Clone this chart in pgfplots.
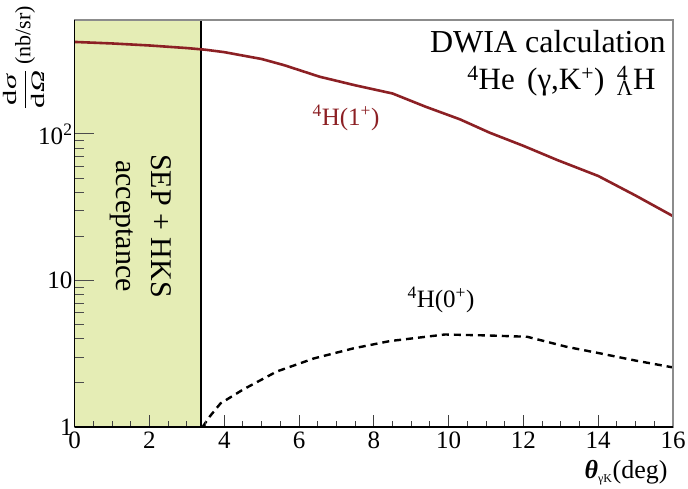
\documentclass[border=0pt]{standalone}
\usepackage{fontspec}
\setmainfont{Liberation Serif}
\usepackage{graphicx}
\usepackage{pgfplots}
\pgfplotsset{compat=1.18}
\definecolor{accgreen}{RGB}{229,237,181}
\definecolor{curvered}{RGB}{140,32,36}
\begin{document}
\begin{tikzpicture}[font=\fontsize{25}{30}\selectfont]
\useasboundingbox (0,0) rectangle (688pt,488pt);
\begin{axis}[
  at={(74.7pt,61pt)}, anchor=south west, scale only axis,
  width=598.3pt, height=407pt,
  xmin=0, xmax=16, ymode=log, ymin=1, ymax=600,
  axis on top,
  axis line style={draw=black!45, line width=1.4pt},
  xtick={0,2,...,16}, minor x tick num=3, xtick pos=bottom,
  ytick=\empty, yminorticks=false,
  tick align=inside,
  major tick length=12pt, minor tick length=6pt,
  tick style={black!75, line width=1pt},
  xticklabel style={font=\fontsize{25}{27}\selectfont, inner sep=2pt, yshift=-3pt},
  /pgf/number format/assume math mode=true,
]
\addplot[fill=accgreen, draw=none] coordinates {(0,1) (3.38,1) (3.38,600) (0,600)};
\addplot[black, line width=1.2pt] coordinates {(3.38,1) (3.38,600)};
\addplot[curvered, line width=2.6pt] coordinates {
(0,425) (1,415) (2,402) (3,386) (3.5,376) (4,362) (5,325) (5.6,295) (6.55,246)
(7.5,215) (8.5,189) (9.4,153) (10.3,126) (11.1,102) (12,83) (12.9,66.5)
(14,51.7) (15,38) (16,27.5)};
\addplot[black, line width=2.4pt, dash pattern=on 7pt off 5pt] coordinates {
(3.42,1.0) (3.6,1.17) (3.9,1.45) (4.5,1.8) (5.4,2.39) (6.4,2.94) (7.45,3.44)
(8.43,3.86) (9.9,4.28) (11,4.22) (12.1,4.13) (13.15,3.53) (14,3.2) (15,2.84) (16,2.55)};
\end{axis}
\begin{axis}[
  at={(74.7pt,61pt)}, anchor=south west, scale only axis,
  width=598.3pt, height=407pt,
  xmin=0, xmax=16, ymode=log, ymin=1, ymax=600,
  axis lines*=left, axis line style={black, line width=1.4pt},
  xtick=\empty,
  ytick={1,10,100}, yticklabels={1,10,10\textsuperscript{2}},
  tick align=inside, major tick length=19pt, minor tick length=9pt,
  tick style={black!70, line width=1pt},
  yticklabel style={font=\fontsize{25}{27}\selectfont, inner sep=2pt},
]
\end{axis}
\node[anchor=east, font=\fontsize{32}{36}\selectfont] at (669pt,446pt) {DWIA calculation};
\node[anchor=east, font=\fontsize{31}{36}\selectfont] at (659pt,407pt) {\textsuperscript{4}He\hspace{0.4em}(γ,K\textsuperscript{+})\hspace{0.4em}\makebox[0pt][l]{\textsuperscript{4}}\textsubscript{Λ}H};
\node[text=curvered] at (346pt,370pt) {\textsuperscript{4}H(1\textsuperscript{+})};
\node at (441pt,188pt) {\textsuperscript{4}H(0\textsuperscript{+})};
\node[rotate=-90, align=center, font=\fontsize{30}{35}\selectfont] at (141pt,262pt) {SEP + HKS\\acceptance};
\node[rotate=90, font=\fontsize{22}{26}\selectfont] at (24pt,430pt) {\scalebox{1.6}[1]{$\displaystyle\frac{\mbox{\fontsize{19}{20}\selectfont d\textit{σ}}}{\mbox{\fontsize{19}{20}\selectfont d\textit{Ω}}}$}\hspace{0.2em}(nb/sr)};
\node[anchor=east, font=\fontsize{26}{30}\selectfont] at (671pt,15pt) {\textbf{\textit{θ}}\textsubscript{\fontsize{12}{12}\selectfont γK}(deg)};
\end{tikzpicture}
\end{document}
